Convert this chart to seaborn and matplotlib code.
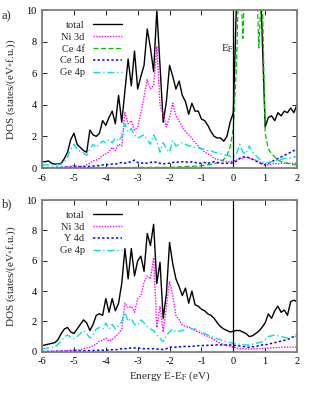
import numpy as np
import pandas as pd
import matplotlib
matplotlib.use("Agg")
import matplotlib.pyplot as plt
import seaborn as sns

# ------------------------
# Data (energy grid: -6 .. 2 eV, step 0.1)
# ------------------------
energy = np.round(np.arange(-6.0, 2.01, 0.1), 2)

# panel a) CeNi-Ge
total_a = [0.4, 0.4, 0.45, 0.3, 0.25, 0.25, 0.3, 0.6, 1.0, 1.8,
           2.2, 1.5, 1.3, 1.1, 1.0, 2.4, 2.1, 2.0, 2.2, 3.0,
           2.7, 3.2, 3.6, 2.8, 4.6, 2.9, 4.9, 6.9, 5.2, 7.4,
           5.0, 5.8, 6.5, 8.8, 7.6, 6.1, 10.0, 6.5, 2.9, 4.2,
           6.5, 5.8, 5.0, 5.5, 4.6, 4.2, 3.4, 4.1, 3.6, 3.6,
           3.1, 3.0, 2.7, 2.3, 2.0, 1.9, 1.9, 1.7, 2.0, 2.9,
           3.5, 10.5, 14, 14, 14, 14, 14, 14, 14, 8.8,
           2.6, 3.2, 3.3, 3.0, 3.5, 3.3, 3.6, 3.5, 3.8, 3.5,
           4.0]
ni3d_a = [0.02, 0.02, 0.02, 0.02, 0.02, 0.03, 0.03, 0.05, 0.07, 0.1,
          0.15, 0.12, 0.1, 0.12, 0.2, 0.3, 0.45, 0.5, 0.6, 0.8,
          0.9, 1.0, 1.3, 1.1, 1.5, 1.4, 3.5, 2.8, 3.0, 2.4,
          2.6, 3.5, 4.5, 5.6, 5.0, 5.2, 7.7, 4.0, 3.4, 2.6,
          3.2, 4.1, 3.3, 3.0, 2.6, 2.3, 2.1, 1.9, 1.6, 1.4,
          1.2, 1.0, 0.9, 0.8, 0.6, 0.55, 0.5, 0.45, 0.4, 0.4,
          0.45, 0.5, 0.6, 0.6, 0.7, 0.6, 0.55, 0.5, 0.4, 0.3,
          0.2, 0.2, 0.25, 0.3, 0.25, 0.3, 0.3, 0.3, 0.3, 0.3,
          0.3]
ce4f_a = [0.02] * 20 + [0.03] * 10 + [0.04] * 10 + \
         [0.05, 0.05, 0.06, 0.07, 0.08, 0.09, 0.1, 0.11, 0.12, 0.13,
          0.15, 0.17, 0.2, 0.23, 0.27, 0.32, 0.4, 0.55, 0.8, 1.3,
          2.5, 6.5, 14, 8.2, 14, 14, 14, 14, 7.6, 12,
          2.2, 1.2, 0.9, 0.7, 0.5, 0.4, 0.35, 0.3, 0.25, 0.2,
          0.2]
ce5d_a = [0.03, 0.03, 0.03, 0.03, 0.04, 0.04, 0.04, 0.05, 0.05, 0.05,
          0.05, 0.06, 0.07, 0.08, 0.1, 0.1, 0.12, 0.14, 0.15, 0.2,
          0.2, 0.22, 0.25, 0.25, 0.3, 0.35, 0.3, 0.35, 0.4, 0.5,
          0.35, 0.3, 0.35, 0.3, 0.35, 0.4, 0.35, 0.3, 0.25, 0.3,
          0.3, 0.35, 0.4, 0.35, 0.4, 0.4, 0.35, 0.4, 0.35, 0.3,
          0.3, 0.35, 0.3, 0.35, 0.4, 0.35, 0.3, 0.3, 0.3, 0.3,
          0.35, 0.45, 0.6, 0.7, 0.7, 0.65, 0.55, 0.45, 0.35, 0.25,
          0.2, 0.3, 0.4, 0.5, 0.6, 0.7, 0.8, 0.9, 1.0, 1.1,
          1.25]
ge4p_a = [0.2, 0.2, 0.2, 0.2, 0.2, 0.2, 0.25, 0.4, 0.7, 1.2,
          1.5, 1.2, 1.05, 0.95, 0.8, 1.2, 1.5, 1.3, 1.5, 1.7,
          1.6, 1.8, 1.6, 1.9, 1.7, 2.0, 2.8, 2.3, 2.5, 2.1,
          1.9, 2.0, 2.1, 1.8, 1.5, 2.1, 1.7, 1.0, 1.6, 1.2,
          1.0, 1.75, 1.4, 1.5, 1.6, 1.5, 1.4, 1.4, 1.3, 1.3,
          1.2, 1.2, 1.1, 1.1, 1.0, 0.95, 0.9, 0.85, 0.8, 0.75,
          0.7, 0.9, 1.5, 1.0, 0.9, 1.4, 1.0, 0.8, 0.6, 0.4,
          0.3, 0.35, 0.4, 0.45, 0.5, 0.55, 0.6, 0.6, 0.65, 0.7,
          0.7]

# panel b) YNi-Ge
total_b = [0.4, 0.45, 0.5, 0.55, 0.6, 0.8, 1.2, 1.5, 1.6, 1.3,
           1.2, 1.5, 1.8, 2.1, 1.9, 1.4, 1.8, 2.4, 2.5, 2.4,
           3.5, 2.6, 3.5, 2.7, 3.2, 4.5, 6.8, 4.8, 6.8, 5.0,
           6.0, 6.3, 5.3, 7.8, 7.0, 8.4, 4.5, 5.9, 2.2, 3.8,
           7.2, 5.8, 4.8, 4.3, 3.7, 4.2, 3.2, 4.0, 3.1, 3.0,
           2.8, 2.7, 2.5, 2.4, 2.2, 1.9, 1.65, 1.5, 1.4, 1.3,
           1.35, 1.4, 1.4, 1.3, 1.2, 1.0, 1.05, 1.2, 1.35, 1.6,
           1.9, 2.5, 2.2, 2.7, 3.0, 2.6, 2.75, 2.4, 3.3, 3.4,
           3.3]
ni3d_b = [0.03, 0.03, 0.03, 0.03, 0.04, 0.04, 0.05, 0.06, 0.08, 0.1,
          0.1, 0.12, 0.15, 0.2, 0.25, 0.3, 0.4, 0.5, 0.7, 0.75,
          0.9, 0.7, 0.8, 1.0, 1.2, 1.5, 3.2, 2.9, 3.0, 2.6,
          3.5, 3.7, 4.6, 5.0, 4.8, 6.2, 1.6, 3.0, 1.3, 3.0,
          4.6, 3.7, 2.4, 2.1, 1.75, 1.7, 1.65, 1.5, 1.4, 1.3,
          1.2, 1.1, 1.0, 0.9, 0.8, 0.65, 0.55, 0.45, 0.4, 0.35,
          0.3, 0.25, 0.2, 0.2, 0.18, 0.18, 0.18, 0.2, 0.2, 0.22,
          0.22, 0.24, 0.26, 0.26, 0.28, 0.28, 0.3, 0.3, 0.3, 0.3,
          0.3]
y4d_b = [0.02, 0.02, 0.02, 0.02, 0.02, 0.03, 0.03, 0.03, 0.03, 0.03,
         0.05, 0.05, 0.06, 0.06, 0.07, 0.08, 0.08, 0.09, 0.1, 0.1,
         0.1, 0.12, 0.13, 0.14, 0.15, 0.2, 0.2, 0.22, 0.25, 0.25,
         0.25, 0.22, 0.2, 0.2, 0.2, 0.2, 0.18, 0.15, 0.15, 0.2,
         0.3, 0.3, 0.3, 0.32, 0.35, 0.35, 0.35, 0.35, 0.38, 0.4,
         0.4, 0.42, 0.42, 0.43, 0.43, 0.45, 0.45, 0.45, 0.45, 0.45,
         0.42, 0.4, 0.38, 0.35, 0.32, 0.3, 0.32, 0.35, 0.4, 0.45,
         0.45, 0.5, 0.55, 0.6, 0.65, 0.7, 0.75, 0.8, 0.9, 1.0,
         1.15]
ge4p_b = [0.2, 0.22, 0.25, 0.28, 0.3, 0.5, 0.7, 1.0, 1.1, 0.95,
          0.85, 1.0, 1.2, 1.4, 1.2, 0.9, 1.1, 1.5, 1.6, 1.5,
          1.9, 1.5, 1.8, 1.5, 1.7, 2.0, 2.6, 2.0, 2.2, 1.8,
          1.75, 2.1, 1.9, 1.65, 1.5, 1.4, 1.1, 0.9, 0.65, 1.1,
          1.3, 1.5, 1.3, 1.35, 1.4, 1.5, 1.65, 1.5, 1.5, 1.4,
          1.3, 1.2, 1.1, 1.0, 0.95, 0.85, 0.8, 0.7, 0.65, 0.6,
          0.55, 0.5, 0.5, 0.45, 0.45, 0.45, 0.5, 0.55, 0.6, 0.65,
          0.8, 1.0, 1.05, 1.1, 1.05, 1.0, 0.95, 0.9, 0.95, 1.0,
          1.0]

xticks = [-6, -5, -4, -3, -2, -1, 0, 1, 2]
yticks = [0, 2, 4, 6, 8, 10]

# ------------------------
# Style
# ------------------------
sns.set_style("ticks")
plt.rcParams['font.family'] = ['Liberation Serif', 'DejaVu Serif']
plt.rcParams['mathtext.fontset'] = 'stix'
plt.rcParams['xtick.direction'] = 'in'
plt.rcParams['ytick.direction'] = 'in'
plt.rcParams['xtick.top'] = True
plt.rcParams['ytick.right'] = True

FS = 7.5
styles = {
    'total': dict(color='black', linestyle='-', lw=1.0),
    'Ni 3d': dict(color='#ff00ff', linestyle=(0, (1, 1)), lw=1.0),
    'Ce 4f': dict(color='#00c000', linestyle=(0, (4, 2)), lw=0.9),
    'Ce 5d': dict(color='#0000ff', linestyle=(0, (1.5, 1.5)), lw=1.1),
    'Y 4d': dict(color='#0000ff', linestyle=(0, (1.5, 1.5)), lw=1.1),
    'Ge 4p': dict(color='#00e0e0', linestyle=(0, (5, 2, 1, 2)), lw=1.0),
}

fig = plt.figure(figsize=(3.14, 3.93), dpi=100)
ax_a = fig.add_axes([0.134, 0.5725, 0.812, 0.402])
ax_b = fig.add_axes([0.134, 0.105, 0.812, 0.386])

panels = [
    (ax_a, {'total': total_a, 'Ni 3d': ni3d_a, 'Ce 4f': ce4f_a,
            'Ce 5d': ce5d_a, 'Ge 4p': ge4p_a}),
    (ax_b, {'total': total_b, 'Ni 3d': ni3d_b, 'Y 4d': y4d_b,
            'Ge 4p': ge4p_b}),
]

for ax, series in panels:
    for name, vals in series.items():
        df = pd.DataFrame({'E': energy, 'DOS': vals})
        sns.lineplot(data=df, x='E', y='DOS', ax=ax, label=name, **styles[name])
    ax.axvline(0, color='black', lw=0.9)
    ax.set_xlim(-6, 2)
    ax.set_ylim(0, 10)
    ax.set_xticks(xticks)
    ax.set_yticks(yticks)
    ax.set_xticklabels([str(t) for t in xticks], fontsize=FS)
    ax.set_yticklabels([str(t) for t in yticks], fontsize=FS)
    ax.tick_params(length=3.5, width=0.6, colors='black', pad=4)
    for sp in ax.spines.values():
        sp.set_color('#808080')
        sp.set_linewidth(1.3)
    ax.set_ylabel(r'DOS (states/(eV$_{*}$f.u.))', fontsize=FS + 0.5, labelpad=6)
    ax.set_xlabel('')
    leg = ax.legend(loc='upper left', bbox_to_anchor=(0.04, 0.98), frameon=False,
                    fontsize=FS, markerfirst=False, handlelength=2.8,
                    handletextpad=0.8, labelspacing=0.25, borderpad=0.2)
    for col in leg._legend_handle_box.get_children():
        col.align = 'right'

ax_a.text(-0.38, 7.4, r'E$_\mathrm{F}$', fontsize=FS + 0.5)
ax_b.set_xlabel(r'Energy E-E$_\mathrm{F}$ (eV)', fontsize=FS + 0.5, labelpad=2)

fig.text(0.005, 0.975, 'a)', fontsize=FS + 1.5, va='top')
fig.text(0.005, 0.495, 'b)', fontsize=FS + 1.5, va='top')

fig.savefig('out.png', dpi=100)
